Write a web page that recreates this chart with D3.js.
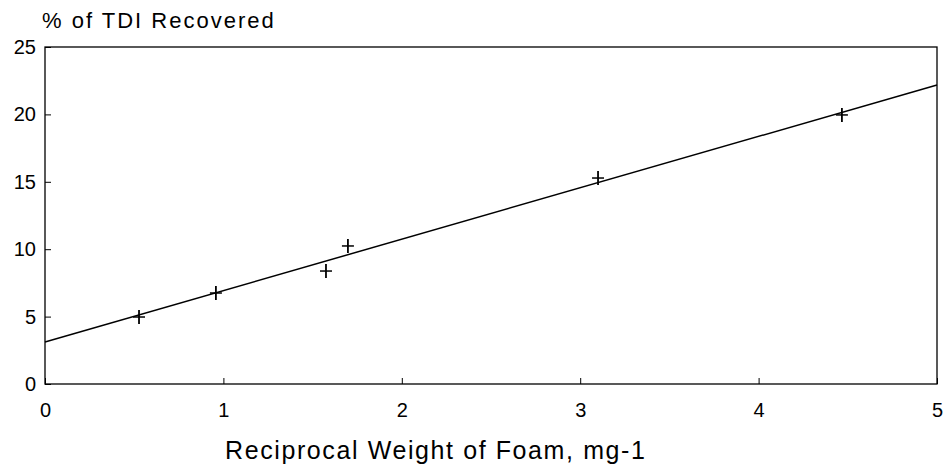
<!DOCTYPE html>
<html>
<head>
<meta charset="utf-8">
<script src="https://cdn.jsdelivr.net/npm/d3@7"></script>
<style>
  body { margin: 0; background: #fff; }
  svg { display: block; font-family: "Liberation Sans", Arial, sans-serif; }
  .axis path, .axis line { stroke: #000; }
  .axis text { font-size: 20px; fill: #000; }
</style>
</head>
<body>
<svg id="chart"></svg>
<script>
// measured points (x = 1/weight, y = % recovered)
const pointX = [0.527, 0.958, 1.575, 1.698, 3.10, 4.467];
const pointY = [4.97, 6.75, 8.38, 10.24, 15.28, 19.96];

// fitted line end points
const fitX = [0, 5];
const fitY = [3.12, 22.18];

const xTicks = [0, 1, 2, 3, 4, 5];
const yTicks = [0, 5, 10, 15, 20, 25];

const width = 944, height = 467;
const margin = { top: 47, right: 7, bottom: 83, left: 45 };
const innerW = width - margin.left - margin.right;
const innerH = height - margin.top - margin.bottom;

const svg = d3.select('#chart')
  .attr('width', width)
  .attr('height', height);

const g = svg.append('g')
  .attr('transform', `translate(${margin.left},${margin.top})`);

const x = d3.scaleLinear().domain([0, 5]).range([0, innerW]);
const y = d3.scaleLinear().domain([0, 25]).range([innerH, 0]);

// frame
g.append('rect')
  .attr('width', innerW)
  .attr('height', innerH)
  .attr('fill', 'none')
  .attr('stroke', '#000')
  .attr('stroke-width', 1.3);

// x axis, ticks pointing inward
const xAxis = d3.axisBottom(x).tickValues(xTicks).tickFormat(d3.format('d'))
  .tickSize(-6).tickPadding(19).tickSizeOuter(0);
g.append('g')
  .attr('class', 'axis x-axis')
  .attr('transform', `translate(0,${innerH})`)
  .call(xAxis)
  .attr('font-family', null)
  .call(a => a.select('.domain').remove());

// y axis
const yAxis = d3.axisLeft(y).tickValues(yTicks).tickFormat(d3.format('d'))
  .tickSize(-6).tickPadding(9).tickSizeOuter(0);
g.append('g')
  .attr('class', 'axis y-axis')
  .call(yAxis)
  .attr('font-family', null)
  .call(a => a.select('.domain').remove());

// regression line
const line = d3.line()
  .x(d => x(d[0]))
  .y(d => y(d[1]));

g.append('path')
  .datum(fitX.map((v, i) => [v, fitY[i]]))
  .attr('d', line)
  .attr('fill', 'none')
  .attr('stroke', '#000')
  .attr('stroke-width', 1.5);

// plus markers
const pts = pointX.map((v, i) => ({ x: v, y: pointY[i] }));
const marks = g.selectAll('.pt')
  .data(pts)
  .enter().append('g')
  .attr('class', 'pt')
  .attr('transform', d => `translate(${x(d.x)},${y(d.y)})`);

marks.append('line')
  .attr('x1', -6).attr('x2', 6)
  .attr('stroke', '#000').attr('stroke-width', 1.5);
marks.append('line')
  .attr('y1', -7).attr('y2', 7)
  .attr('stroke', '#000').attr('stroke-width', 1.8);

// titles
svg.append('text')
  .attr('x', 42)
  .attr('y', 28)
  .attr('font-size', 22)
  .attr('letter-spacing', 2)
  .text('% of TDI Recovered');

svg.append('text')
  .attr('x', 225)
  .attr('y', 459)
  .attr('font-size', 25)
  .attr('letter-spacing', 1.6)
  .text('Reciprocal Weight of Foam, mg-1');
</script>
</body>
</html>
